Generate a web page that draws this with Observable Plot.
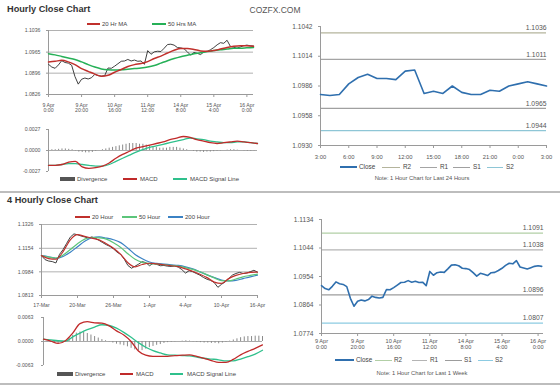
<!DOCTYPE html>
<html><head><meta charset="utf-8">
<script src="https://cdn.jsdelivr.net/npm/d3@7"></script>
<script src="https://cdn.jsdelivr.net/npm/@observablehq/plot@0.6"></script>
<style>
body{margin:0;background:#fff;}
#root{position:relative;width:560px;height:386px;overflow:hidden;background:#fff;font-family:'Liberation Sans',Arial,Helvetica,sans-serif;}
.t{position:absolute;white-space:nowrap;line-height:1;transform:translateY(-50%);}
.sw{position:absolute;}
</style></head><body><div id="root"></div>
<script>
// ---------- DATA ----------
// Hourly close, every 2nd hourly bar from 9 Apr 0:00 (index in hours)
const hourlyClose = [1.0925,1.0916,1.0912,1.0923,1.0937,1.0931,1.0929,1.0922,1.0885,1.0860,
  1.0876,1.0880,1.0877,1.0881,1.0892,1.0888,1.0886,1.0888,1.0913,1.0912,
  1.0919,1.0927,1.0935,1.0936,1.0941,1.0936,1.0939,1.0935,1.0936,1.0925,
  1.0970,1.0958,1.0966,1.0968,1.0967,1.0978,1.0990,1.0991,1.0988,1.0980,
  1.0979,1.0976,1.0966,1.0955,1.0964,1.0961,1.0957,1.0966,1.0967,1.0973,
  1.0980,1.0989,1.0996,1.0994,1.1004,1.0984,1.0981,1.0978,1.0982,1.0986,
  1.0988,1.0986,1.0985];
// every 4th hourly bar
const hourlyMA20 = [1.0933,1.0935,1.0938,1.0933,1.0924,1.0911,1.0902,1.0893,1.0886,1.0889,
  1.0899,1.0908,1.0918,1.0924,1.0928,1.0934,1.0944,1.0952,1.0962,1.0971,
  1.0977,1.0977,1.0974,1.0969,1.0968,1.0970,1.0975,1.0980,1.0984,1.0986,1.0986,1.0984];
const hourlyMA50 = [1.0960,1.0956,1.0951,1.0946,1.0941,1.0933,1.0924,1.0916,1.0910,1.0907,
  1.0906,1.0907,1.0909,1.0911,1.0913,1.0916,1.0921,1.0929,1.0937,1.0944,
  1.0950,1.0955,1.0960,1.0963,1.0967,1.0970,1.0973,1.0975,1.0978,1.0978,1.0979,1.0980];
const hourlyMACD = [-0.0019,-0.0019,-0.0018,-0.0015,-0.0014,-0.0021,-0.0023,-0.0022,-0.0020,-0.0016,
  -0.0010,-0.0005,-0.0001,0.0003,0.0005,0.0007,0.0009,0.0011,0.0014,0.0016,
  0.0018,0.0017,0.0014,0.0012,0.0010,0.0009,0.0010,0.0011,0.0012,0.0011,0.0010,0.0009];
const hourlySignal = [-0.0019,-0.0019,-0.0018,-0.0017,-0.0017,-0.0018,-0.0019,-0.0020,-0.0020,-0.0018,
  -0.0014,-0.0010,-0.0006,-0.0002,0.0001,0.0004,0.0006,0.0008,0.0010,0.0012,
  0.0014,0.0016,0.0015,0.0014,0.0012,0.0011,0.0010,0.0010,0.0011,0.0011,0.0010,0.0009];
// every 2nd hourly bar
const hourlyDiverg = [0.00005,0.0001,0.0001,0.00015,0.0002,0.0002,0.00015,0.0001,-0.00005,-0.0002,
  -0.00025,-0.0003,-0.0003,-0.00025,-0.0001,0,0.0001,0.0002,0.0003,0.0004,
  0.0005,0.0006,0.0007,0.0008,0.0009,0.0009,0.0009,0.0008,0.0008,0.0007,
  0.0006,0.0005,0.0004,0.0003,0.0003,0.0003,0.0004,0.0004,0.0004,0.0003,
  0.0002,0.0001,0,-0.0001,-0.0002,-0.0002,-0.00025,-0.0002,-0.0002,-0.00015,
  -0.0001,-0.00005,0,0.00005,0.0001,0.0001,0.00005,0,-0.00005,-0.0001,
  -0.0001,-0.00005,0];
const hourlyTickLabels = ["9 Apr\n0:00","9 Apr\n20:00","10 Apr\n16:00","11 Apr\n12:00","14 Apr\n8:00","15 Apr\n4:00","16 Apr\n0:00"];
const hourlyYTicks = [1.0826,1.0896,1.0965,1.1036];
const hourlyMacdTicks = [-0.0027,0,0.0027];

// Last 24 hours close (hourly, 3:00 → 3:00)
const dayClose = [1.0978,1.0977,1.0978,1.0988,1.0994,1.0997,1.0993,1.0993,1.0992,1.1000,
  1.1001,1.0979,1.0981,1.0979,1.0986,1.0980,1.0978,1.0978,1.0982,1.0981,
  1.0986,1.0988,1.0990,1.0988,1.0986];
const dayTickLabels = ["3:00","6:00","9:00","12:00","15:00","18:00","21:00","0:00","3:00"];
const dayYTicks = [1.0930,1.0958,1.0986,1.1014,1.1042];
const levelNames = ["R2","R1","S1","S2"];
const dayLevels = [1.1036,1.1011,1.0965,1.0944];
const dayLevelColors = ["#b4b49c","#a4a4a4","#a0a0a0","#8ec6d6"];

// Last week
const weekYTicks = [1.0774,1.0864,1.0954,1.1044,1.1134];
const weekLevels = [1.1091,1.1038,1.0896,1.0807];
const weekLevelColors = ["#b2cfa6","#b4b4b4","#9c9c9c","#8ccbe2"];

// 4-hourly close, every 2nd 4h bar from 17 Mar
const fourClose = [1.1101,1.1072,1.1062,1.1058,1.1048,1.1110,1.1145,1.1190,1.1235,1.1258,
  1.1252,1.1243,1.1236,1.1228,1.1236,1.1226,1.1211,1.1195,1.1180,1.1168,
  1.1150,1.1126,1.1110,1.1075,1.1030,1.1010,1.1025,1.1040,1.1058,1.1050,
  1.1028,1.1045,1.1038,1.1028,1.1030,1.1025,1.1023,1.1026,1.1018,1.1000,
  1.0975,1.0992,1.0985,1.0972,1.0960,1.0943,1.0930,1.0922,1.0906,1.0872,
  1.0894,1.0911,1.0935,1.0960,1.0972,1.0980,1.0972,1.0975,1.0985,1.0995,1.0982];
// every 4th 4h bar
const fourMA20 = [1.1101,1.1080,1.1075,1.1130,1.1215,1.1253,1.1240,1.1228,1.1215,1.1187,
  1.1155,1.1110,1.1050,1.1020,1.1037,1.1046,1.1041,1.1035,1.1028,1.1022,
  1.1005,1.0988,1.0967,1.0942,1.0910,1.0900,1.0935,1.0958,1.0972,1.0980,1.0982];
const fourMA50 = [1.1101,1.1090,1.1083,1.1105,1.1145,1.1187,1.1220,1.1234,1.1230,1.1220,
  1.1194,1.1160,1.1115,1.1075,1.1052,1.1044,1.1040,1.1035,1.1031,1.1025,
  1.1015,1.1002,1.0985,1.0962,1.0940,1.0920,1.0918,1.0932,1.0948,1.0958,1.0967];
const fourMA200 = [1.1101,1.1093,1.1082,1.1095,1.1126,1.1165,1.1205,1.1230,1.1236,1.1228,
  1.1216,1.1195,1.1155,1.1110,1.1078,1.1055,1.1045,1.1040,1.1035,1.1030,
  1.1020,1.1005,1.0984,1.0962,1.0943,1.0925,1.0918,1.0922,1.0935,1.0948,1.0960];
const fourMACD = [0.0006,0.0001,-0.0005,0.0002,0.0022,0.0047,0.0052,0.0049,0.0048,0.0041,
  0.0028,0.0017,0.0000,-0.0025,-0.0036,-0.0039,-0.0039,-0.0039,-0.0037,-0.0036,
  -0.0035,-0.0039,-0.0044,-0.0050,-0.0055,-0.0055,-0.0047,-0.0035,-0.0026,-0.0018,-0.0009];
const fourSignal = [0.0006,0.0004,0.0002,0.0001,0.0012,0.0022,0.0031,0.0038,0.0044,0.0042,
  0.0035,0.0024,0.0011,-0.0003,-0.0015,-0.0024,-0.0030,-0.0035,-0.0036,-0.0037,
  -0.0038,-0.0041,-0.0044,-0.0046,-0.0048,-0.0051,-0.0051,-0.0046,-0.0040,-0.0033,-0.0023];
// every 2nd 4h bar
const fourDiverg = [0,-0.0001,-0.0002,-0.0004,-0.0006,-0.0003,0.0002,0.0010,0.0016,0.0022,
  0.0025,0.0024,0.0021,0.0017,0.0013,0.0009,0.0005,0.0002,-0.0001,-0.0004,
  -0.0007,-0.0009,-0.0011,-0.0014,-0.0018,-0.0022,-0.0025,-0.0024,-0.0020,-0.0016,
  -0.0013,-0.0010,-0.0008,-0.0005,-0.0003,-0.0002,-0.0001,0,0.0001,0.0002,
  0.0001,-0.0001,-0.0002,-0.0003,-0.0004,-0.0004,-0.0005,-0.0005,-0.0006,-0.0004,
  -0.0002,0.0001,0.0004,0.0007,0.0010,0.0012,0.0013,0.0013,0.0014,0.0014,0.0013];
const fourTickLabels = ["17-Mar","20-Mar","26-Mar","1-Apr","4-Apr","10-Apr","16-Apr"];
const fourYTicks = [1.0813,1.0984,1.1154,1.1326];
const fourMacdTicks = [-0.0063,0,0.0063];

// ---------- HELPERS ----------
const root = document.getElementById('root');
const FONT = "'Liberation Sans', Arial, Helvetica, sans-serif";
const rows = (vals, step) => vals.map((v, k) => ({i: k * step, v}));
const tickIdx = [0,20,40,60,80,100,120];
function put(svg, left, top){ svg.style.position='absolute'; svg.style.left=left+'px'; svg.style.top=top+'px'; root.appendChild(svg); }
function txt(s, x, y, size, o={}){
  const d=document.createElement('div'); d.className='t'; d.textContent=s;
  d.style.fontSize=size+'px'; d.style.color=o.color||'#444'; d.style.left=x+'px'; d.style.top=y+'px';
  if(o.bold) d.style.fontWeight='bold';
  if(o.center) d.style.transform='translate(-50%,-50%)';
  root.appendChild(d);
}
function sw(x1,x2,y,color,h){
  const d=document.createElement('div'); d.className='sw';
  d.style.left=x1+'px'; d.style.width=(x2-x1)+'px'; d.style.top=(y-h/2)+'px'; d.style.height=h+'px'; d.style.background=color;
  root.appendChild(d);
}
const style = fs => ({fontFamily: FONT, fontSize: fs+'px', color: '#555', background: 'transparent', overflow: 'visible'});
const AX = "#9a9a9a", GRID = "#a8a8a8";
const RED = "#c0302c", GREEN = "#26b057", BLUE = "#2f6fae";
const MRED = "#c02a2a", MGREEN = "#2fc08c";

// ---------- TOP-LEFT: hourly close ----------
{
  const hMap = new Map(tickIdx.map((t,k)=>[t, hourlyTickLabels[k]]));
  const p = Plot.plot({
    width: 260, height: 97, marginLeft: 48, marginRight: 7, marginTop: 10, marginBottom: 23,
    style: style(5.2),
    x: {domain: [0,124], label: null},
    y: {domain: [1.0826, 1.1036], label: null},
    marks: [
      Plot.ruleY(hourlyYTicks.slice(1), {stroke: GRID, strokeWidth: 0.9}),
      Plot.ruleX([0], {stroke: AX}),
      Plot.ruleY([1.0826], {stroke: AX}),
      Plot.axisY({ticks: hourlyYTicks, tickFormat: d => d.toFixed(4), tickSize: 2, tickPadding: 6, stroke: AX, label: null}),
      Plot.axisX({ticks: tickIdx, tickFormat: d => hMap.get(d), tickSize: 3, tickPadding: 6, stroke: AX, label: null}),
      Plot.line(rows(hourlyClose, 2), {x: "i", y: "v", stroke: "#2a2a2a", strokeWidth: 0.9}),
      Plot.line(rows(hourlyMA50, 4), {x: "i", y: "v", stroke: GREEN, strokeWidth: 1.5, curve: "monotone-x"}),
      Plot.line(rows(hourlyMA20, 4), {x: "i", y: "v", stroke: RED, strokeWidth: 1.5, curve: "monotone-x"})
    ]
  });
  put(p, 0, 20);
}
// ---------- TOP-LEFT: hourly MACD ----------
{
  const p = Plot.plot({
    width: 260, height: 52, marginLeft: 48, marginRight: 3, marginTop: 7, marginBottom: 3,
    style: style(5.2),
    x: {domain: [0,124], axis: null, label: null},
    y: {domain: [-0.0027, 0.0027], label: null},
    marks: [
      Plot.ruleY([0], {stroke: "#aaa"}),
      Plot.ruleX([0], {stroke: AX}),
      Plot.axisY({ticks: hourlyMacdTicks, tickFormat: d => d.toFixed(4), tickSize: 2, tickPadding: 6, stroke: AX, label: null}),
      Plot.ruleX(rows(hourlyDiverg, 2), {x: "i", y1: 0, y2: "v", stroke: "#8a8a8a", strokeWidth: 1}),
      Plot.line(rows(hourlySignal, 4), {x: "i", y: "v", stroke: MGREEN, strokeWidth: 1.3, curve: "monotone-x"}),
      Plot.line(rows(hourlyMACD, 4), {x: "i", y: "v", stroke: MRED, strokeWidth: 1.3, curve: "monotone-x"})
    ]
  });
  put(p, 0, 122);
}
// ---------- TOP-RIGHT: last 24 hours ----------
{
  const dIdx = d3.range(0, 25, 3);
  const dMap = new Map(dIdx.map((t,k)=>[t, dayTickLabels[k]]));
  const lv = dayLevels.map((v,k)=>({v, name: levelNames[k], c: dayLevelColors[k]}));
  const p = Plot.plot({
    width: 280, height: 146, marginLeft: 40, marginRight: 14, marginTop: 11, marginBottom: 16,
    style: style(5.6),
    x: {domain: [0,24], label: null},
    y: {domain: [1.0930, 1.1042], label: null},
    marks: [
      ...lv.map(d => Plot.ruleY([d.v], {stroke: d.c, strokeWidth: 1.2})),
      Plot.text(lv, {x: 24, y: "v", text: d => d.v.toFixed(4), textAnchor: "end", dy: -5, fontSize: 6.8, fill: "#555"}),
      Plot.ruleX([0], {stroke: AX}),
      Plot.ruleY([1.0930], {stroke: AX}),
      Plot.axisY({ticks: dayYTicks, tickFormat: d => d.toFixed(4), tickSize: 2, tickPadding: 6, stroke: AX, fontSize: 6.6, label: null}),
      Plot.axisX({ticks: dIdx, tickFormat: d => dMap.get(d), tickSize: 3, tickPadding: 6, stroke: AX, fontSize: 5.8, label: null}),
      Plot.line(rows(dayClose, 1), {x: "i", y: "v", stroke: BLUE, strokeWidth: 1.6})
    ]
  });
  put(p, 280, 15);
}
// ---------- BOTTOM-LEFT: 4 hourly close ----------
{
  const fMap = new Map(tickIdx.map((t,k)=>[t, fourTickLabels[k]]));
  const p = Plot.plot({
    width: 265, height: 101, marginLeft: 41, marginRight: 8, marginTop: 10, marginBottom: 20,
    style: style(5.2),
    x: {domain: [0,120], label: null},
    y: {domain: [1.0813, 1.1326], label: null},
    marks: [
      Plot.ruleY(fourYTicks.slice(1), {stroke: GRID, strokeWidth: 0.9}),
      Plot.ruleX([0], {stroke: AX}),
      Plot.ruleY([1.0813], {stroke: AX}),
      Plot.axisY({ticks: fourYTicks, tickFormat: d => d.toFixed(4), tickSize: 2, tickPadding: 6, stroke: AX, label: null}),
      Plot.axisX({ticks: tickIdx, tickFormat: d => fMap.get(d), tickSize: 3, tickPadding: 5, stroke: AX, label: null}),
      Plot.line(rows(fourClose, 2), {x: "i", y: "v", stroke: "#2a2a2a", strokeWidth: 0.9}),
      Plot.line(rows(fourMA200, 4), {x: "i", y: "v", stroke: "#3b82c4", strokeWidth: 1.2, curve: "monotone-x"}),
      Plot.line(rows(fourMA50, 4), {x: "i", y: "v", stroke: "#5cc57a", strokeWidth: 1.2, curve: "monotone-x"}),
      Plot.line(rows(fourMA20, 4), {x: "i", y: "v", stroke: "#c0302c", strokeWidth: 1.2, curve: "monotone-x"})
    ]
  });
  put(p, 0, 214);
}
// ---------- BOTTOM-LEFT: 4 hourly MACD ----------
{
  const p = Plot.plot({
    width: 265, height: 58, marginLeft: 43, marginRight: 3, marginTop: 7, marginBottom: 3,
    style: style(5.2),
    x: {domain: [0,120], axis: null, label: null},
    y: {domain: [-0.0063, 0.0063], label: null},
    marks: [
      Plot.ruleY([0], {stroke: "#aaa"}),
      Plot.ruleX([0], {stroke: AX}),
      Plot.axisY({ticks: fourMacdTicks, tickFormat: d => d.toFixed(4), tickSize: 2, tickPadding: 8, stroke: AX, label: null}),
      Plot.ruleX(rows(fourDiverg, 2), {x: "i", y1: 0, y2: "v", stroke: "#8a8a8a", strokeWidth: 1}),
      Plot.line(rows(fourSignal, 4), {x: "i", y: "v", stroke: MGREEN, strokeWidth: 1.3, curve: "monotone-x"}),
      Plot.line(rows(fourMACD, 4), {x: "i", y: "v", stroke: MRED, strokeWidth: 1.3, curve: "monotone-x"})
    ]
  });
  put(p, 0, 310);
}
// ---------- BOTTOM-RIGHT: last week ----------
{
  const hMap = new Map(tickIdx.map((t,k)=>[t, hourlyTickLabels[k]]));
  const lv = weekLevels.map((v,k)=>({v, c: weekLevelColors[k]}));
  const p = Plot.plot({
    width: 280, height: 146, marginLeft: 41, marginRight: 17, marginTop: 10, marginBottom: 22,
    style: style(5.6),
    x: {domain: [0,123], label: null},
    y: {domain: [1.0774, 1.1134], label: null},
    marks: [
      ...lv.map(d => Plot.ruleY([d.v], {stroke: d.c, strokeWidth: 1.2})),
      Plot.text(lv, {x: 123, y: "v", text: d => d.v.toFixed(4), textAnchor: "end", dy: -5, fontSize: 6.8, fill: "#555"}),
      Plot.ruleX([0], {stroke: AX}),
      Plot.ruleY([1.0774], {stroke: AX}),
      Plot.axisY({ticks: weekYTicks, tickFormat: d => d.toFixed(4), tickSize: 2, tickPadding: 6, stroke: AX, fontSize: 6.6, label: null}),
      Plot.axisX({ticks: tickIdx, tickFormat: d => hMap.get(d), tickSize: 3, tickPadding: 3, stroke: AX, fontSize: 5.6, label: null}),
      Plot.line(rows(hourlyClose, 2).filter(d => d.i <= 122), {x: "i", y: "v", stroke: BLUE, strokeWidth: 1.6})
    ]
  });
  put(p, 280, 209);
}

// ---------- TEXT, LEGENDS, SEPARATORS ----------
txt("Hourly Close Chart", 7, 10, 9.2, {bold: true, color: "#333"});
txt("COZFX.COM", 275, 10, 8.5, {center: true, color: "#555"});
txt("4 Hourly Close Chart", 7, 201, 9.2, {bold: true, color: "#333"});

// top-left legends
sw(87,100,24,RED,1.5); txt("20 Hr MA",102,24,6);
sw(152,166,24,GREEN,1.5); txt("50 Hrs MA",168,24,6);
sw(60,75,179,"#555",3.5); txt("Divergence",77,179,6);
sw(123,137,179,MRED,1.3); txt("MACD",140,179,6);
sw(173,187,179,MGREEN,1.3); txt("MACD Signal Line",190,179,6);

// top-right legend
sw(340,357,167,BLUE,1.5); txt("Close",359,167,6.4);
sw(382,400,167,dayLevelColors[0],1); txt("R2",403,167,6.4);
sw(420,437,167,dayLevelColors[1],1); txt("R1",440,167,6.4);
sw(453,470,167,dayLevelColors[2],1); txt("S1",473,167,6.4);
sw(487,503,167,dayLevelColors[3],1); txt("S2",506,167,6.4);
txt("Note: 1 Hour Chart for Last 24 Hours", 422, 179, 5.8, {center: true, color: "#555"});

// bottom-left legends
sw(75,90,217,"#c0302c",1.3); txt("20 Hour",92,217,6);
sw(122,137,217,"#5cc57a",1.3); txt("50 Hour",139,217,6);
sw(168,183,217,"#3b82c4",1.3); txt("200 Hour",185,217,6);
sw(57,73,374,"#555",3.5); txt("Divergence",75,374,6);
sw(120,133,374,MRED,1.3); txt("MACD",136,374,6);
sw(170,183,374,MGREEN,1.3); txt("MACD Signal Line",187,374,6);

// bottom-right legend
sw(335,354,360,BLUE,1.5); txt("Close",356,360,6.4);
sw(375,392,360,weekLevelColors[0],1); txt("R2",394,360,6.4);
sw(412,427,360,weekLevelColors[1],1); txt("R1",430,360,6.4);
sw(445,462,360,weekLevelColors[2],1); txt("S1",464,360,6.4);
sw(478,493,360,weekLevelColors[3],1); txt("S2",495,360,6.4);
txt("Note: 1 Hour Chart for Last 1 Week", 422, 374, 5.8, {center: true, color: "#555"});

// separators
sw(0,560,192,"#bdbdbd",1.5);
sw(0,560,384,"#bdbdbd",1.5);
</script></body></html>
